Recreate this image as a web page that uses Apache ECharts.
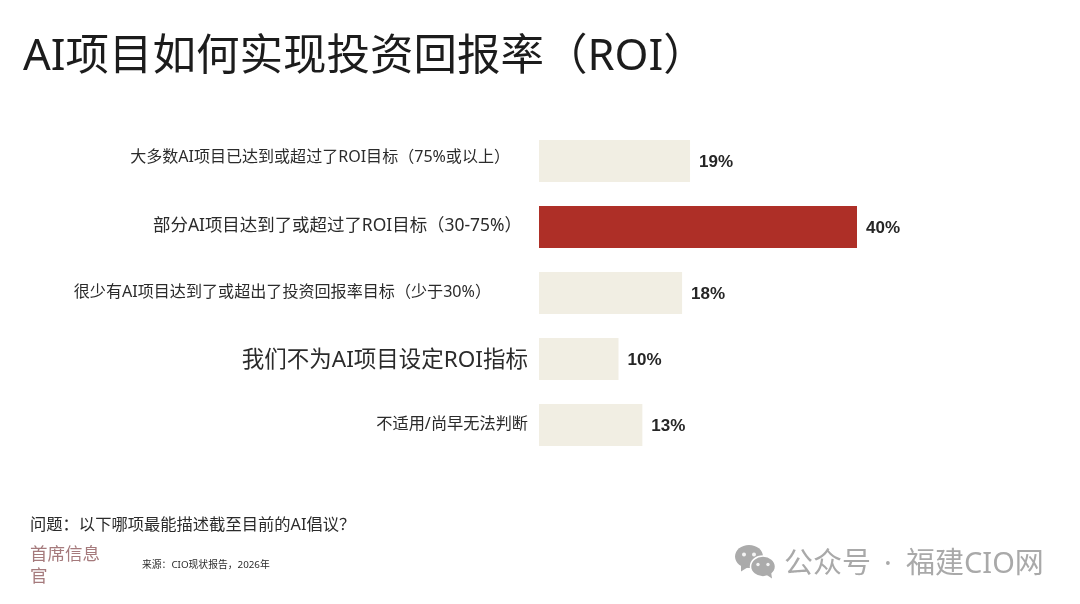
<!DOCTYPE html>
<html><head><meta charset="utf-8">
<style>html,body{margin:0;padding:0;background:#fff}#c{width:1080px;height:604px}</style>
<script src="https://cdn.jsdelivr.net/npm/echarts@6/dist/echarts.min.js"></script></head>
<body><div id="c"></div>
<script>
const categories=['大多数AI项目已达到或超过了ROI目标（75%或以上）','部分AI项目达到了或超过了ROI目标（30-75%）','很少有AI项目达到了或超出了投资回报率目标（少于30%）','我们不为AI项目设定ROI指标','不适用/尚早无法判断'];
const values=[19,40,18,10,13];
const highlightIndex=1;
const labelStyles=[
 {fontSize:16.04,padding:[0,19,8,0]},
 {fontSize:17.45,padding:[0,7,2,0]},
 {fontSize:16.08,padding:[0,38,2,0]},
 {fontSize:22.5,padding:[4,1,0,0]},
 {fontSize:16.2,padding:[0,1,2,0]}
];
const FONT='"Noto Sans","Noto Sans CJK SC",sans-serif';
const rich={};
labelStyles.forEach((s,i)=>{rich['s'+i]={fontFamily:FONT,color:'#2b2b2b',fontSize:s.fontSize,padding:s.padding};});
const chart=echarts.init(document.getElementById('c'),null,{renderer:'canvas'});
chart.setOption({
 animation:false,
 backgroundColor:'#fff',
 title:{text:'AI项目如何实现投资回报率（ROI）',left:18,top:31,textStyle:{fontFamily:FONT,fontSize:43.5,fontWeight:'normal',color:'#1c1c1c'}},
 grid:{left:539,top:128,width:477,height:330},
 xAxis:{type:'value',min:0,max:60,show:false},
 yAxis:{type:'category',inverse:true,data:categories,axisLine:{show:false},axisTick:{show:false},
  axisLabel:{margin:10,interval:0,formatter:(v)=>{const i=categories.indexOf(v);return '{s'+i+'|'+v+'}';},rich:rich}},
 series:[{type:'bar',barWidth:42,silent:true,
  data:values.map((v,i)=>({value:v,itemStyle:{color:i===highlightIndex?'#ae2f27':'#f1eee3'}})),
  label:{show:true,position:'right',distance:9,offset:[0,1],formatter:'{c}%',fontFamily:'"Liberation Sans",Arial,sans-serif',fontWeight:'bold',fontSize:17,color:'#262626'}}],
 graphic:[
  {type:'text',left:30,top:517,style:{text:'问题：以下哪项最能描述截至目前的AI倡议？',font:'16.3px '+FONT,fill:'#2b2b2b'}},
  {type:'text',left:30,top:546,style:{text:'首席信息',font:'17.5px '+FONT,fill:'#a57a7c'}},
  {type:'text',left:30,top:568,style:{text:'官',font:'17.5px '+FONT,fill:'#a57a7c'}},
  {type:'text',left:142,top:560,style:{text:'来源：CIO现状报告，2026年',font:'9.8px '+FONT,fill:'#2b2b2b'}},
  {type:'text',left:784,top:550,style:{text:'公众号',font:'29px '+FONT,fill:'#a9a9a9'}},
  {type:'text',left:884,top:550,style:{text:'·',font:'29px '+FONT,fill:'#a9a9a9'}},
  {type:'text',left:906,top:550,style:{text:'福建CIO网',font:'29px '+FONT,fill:'#a9a9a9'}},
  {type:'group',left:735,top:545,children:[
    {type:'ellipse',shape:{cx:14,cy:11,rx:14,ry:11.5},style:{fill:'#ababab'}},
    {type:'polygon',shape:{points:[[6,18],[6,26],[14,21]]},style:{fill:'#ababab'}},
    {type:'circle',shape:{cx:9,cy:9,r:2},style:{fill:'#f4f4f4'}},
    {type:'circle',shape:{cx:19,cy:9,r:2},style:{fill:'#f4f4f4'}},
    {type:'ellipse',shape:{cx:28,cy:21,rx:12.5,ry:10.5},style:{fill:'#ababab',stroke:'#fff',lineWidth:1.5}},
    {type:'polygon',shape:{points:[[31,29],[37,33],[36,26]]},style:{fill:'#ababab'}},
    {type:'circle',shape:{cx:23,cy:19,r:1.7},style:{fill:'#f4f4f4'}},
    {type:'circle',shape:{cx:33,cy:19,r:1.7},style:{fill:'#f4f4f4'}}
  ]}
 ]
});
</script></body></html>
